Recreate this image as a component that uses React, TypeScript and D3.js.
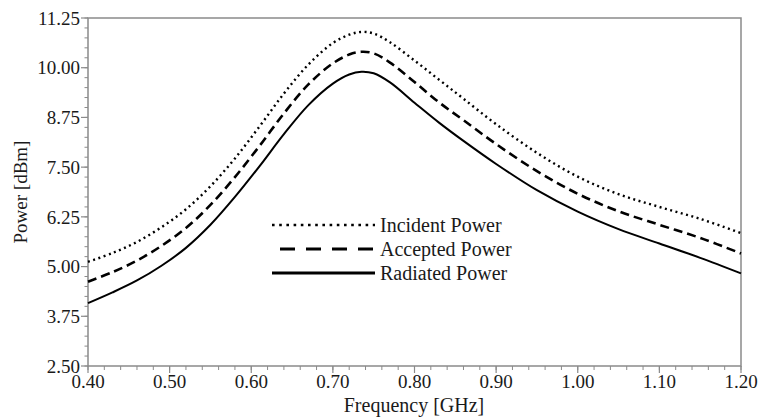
import React from "react";
import * as d3 from "d3";

const freq = [0.4, 0.43, 0.46, 0.49, 0.52, 0.55, 0.58, 0.61, 0.64, 0.67, 0.7, 0.72, 0.735, 0.75, 0.77, 0.8, 0.83, 0.86, 0.9, 0.95, 1.0, 1.05, 1.1, 1.15, 1.2];
const radiated = [4.08, 4.35, 4.65, 5.02, 5.47, 6.05, 6.75, 7.52, 8.33, 9.06, 9.6, 9.83, 9.9, 9.86, 9.63, 9.12, 8.62, 8.16, 7.58, 6.92, 6.38, 5.94, 5.58, 5.22, 4.83];
const accepted = [4.62, 4.86, 5.15, 5.52, 5.97, 6.55, 7.25, 8.03, 8.85, 9.58, 10.11, 10.33, 10.4, 10.36, 10.13, 9.64, 9.13, 8.68, 8.08, 7.4, 6.83, 6.39, 6.05, 5.72, 5.33];
const incident = [5.12, 5.34, 5.62, 5.99, 6.44, 7.02, 7.72, 8.52, 9.35, 10.08, 10.62, 10.83, 10.9, 10.86, 10.64, 10.18, 9.7, 9.22, 8.58, 7.86, 7.26, 6.82, 6.5, 6.2, 5.84];
const yTicks = [2.5, 3.75, 5.0, 6.25, 7.5, 8.75, 10.0, 11.25];
const xTicks = [0.4, 0.5, 0.6, 0.7, 0.8, 0.9, 1.0, 1.1, 1.2];
const legendLabels = ["Incident Power", "Accepted Power", "Radiated Power"];

const W = 759, H = 417;
const L = 88, R = 741, T = 18, B = 366;
const FONT = "'Liberation Serif', Tinos, 'Nimbus Roman', 'DejaVu Serif', serif";

export default function App() {
  const x = d3.scaleLinear().domain([0.4, 1.2]).range([L, R]);
  const y = d3.scaleLinear().domain([2.5, 11.25]).range([B, T]);
  const line = (vals: number[]) =>
    d3.line<number>().x((_, i) => x(freq[i])).y((v) => y(v)).curve(d3.curveCatmullRom.alpha(0.5))(vals) || "";

  const yMinor = d3.range(0, 36).map((i) => 2.5 + i * 0.25);
  const xMinor = d3.range(0, 41).map((i) => 0.4 + i * 0.02);
  const axisColor = "#8a8a8a";
  const textColor = "#1a1a1a";
  const ts: React.CSSProperties = { fontFamily: FONT };

  const series = [
    { vals: incident, dash: "2,3.5", w: 2.4 },
    { vals: accepted, dash: "9,5", w: 2.6 },
    { vals: radiated, dash: "", w: 2 },
  ];
  const legendY = [225, 249, 273];
  const legendDash = ["2.6,4.6", "15,11", ""];

  return (
    <svg width={W} height={H} style={{ position: "absolute", left: 0, top: 0, background: "#fff" }}>
      <rect x={0} y={0} width={W} height={H} fill="#fff" />
      <rect x={L} y={T} width={R - L} height={B - T} fill="none" stroke={axisColor} strokeWidth={1.5} />
      {yMinor.map((v, i) => (
        <line key={"ym" + i} x1={L - 3.5} x2={L} y1={y(v)} y2={y(v)} stroke={axisColor} strokeWidth={1} />
      ))}
      {yTicks.map((v, i) => (
        <line key={"yM" + i} x1={L - 7} x2={L} y1={y(v)} y2={y(v)} stroke={axisColor} strokeWidth={1.2} />
      ))}
      {xMinor.map((v, i) => (
        <line key={"xm" + i} x1={x(v)} x2={x(v)} y1={B} y2={B + 4} stroke={axisColor} strokeWidth={1} />
      ))}
      {xTicks.map((v, i) => (
        <line key={"xM" + i} x1={x(v)} x2={x(v)} y1={B} y2={B + 7} stroke={axisColor} strokeWidth={1.2} />
      ))}
      {yTicks.map((v, i) => (
        <text key={"yl" + i} x={L - 8} y={y(v)} dy="0.35em" textAnchor="end" style={ts} fontSize={19} fill={textColor}>
          {v.toFixed(2)}
        </text>
      ))}
      {xTicks.map((v, i) => (
        <text key={"xl" + i} x={x(v)} y={B + 22} textAnchor="middle" style={ts} fontSize={19} fill={textColor}>
          {v.toFixed(2)}
        </text>
      ))}
      <text x={414} y={412} textAnchor="middle" style={ts} fontSize={20} fill={textColor}>
        Frequency [GHz]
      </text>
      <text transform={`translate(27,${(T + B) / 2}) rotate(-90)`} textAnchor="middle" style={ts} fontSize={19} fill={textColor}>
        Power [dBm]
      </text>
      {series.map((s, i) => (
        <path key={"s" + i} d={line(s.vals)} fill="none" stroke="#000" strokeWidth={s.w} strokeDasharray={s.dash || undefined} />
      ))}
      {legendLabels.map((lab, i) => (
        <g key={"lg" + i}>
          <line x1={i === 1 ? 280 : 272} x2={375} y1={legendY[i]} y2={legendY[i]} stroke="#000" strokeWidth={i === 0 ? 2.6 : 3} strokeDasharray={legendDash[i] || undefined} />
          <text x={380} y={legendY[i]} dy="0.33em" style={ts} fontSize={20} fill={textColor}>
            {lab}
          </text>
        </g>
      ))}
    </svg>
  );
}
